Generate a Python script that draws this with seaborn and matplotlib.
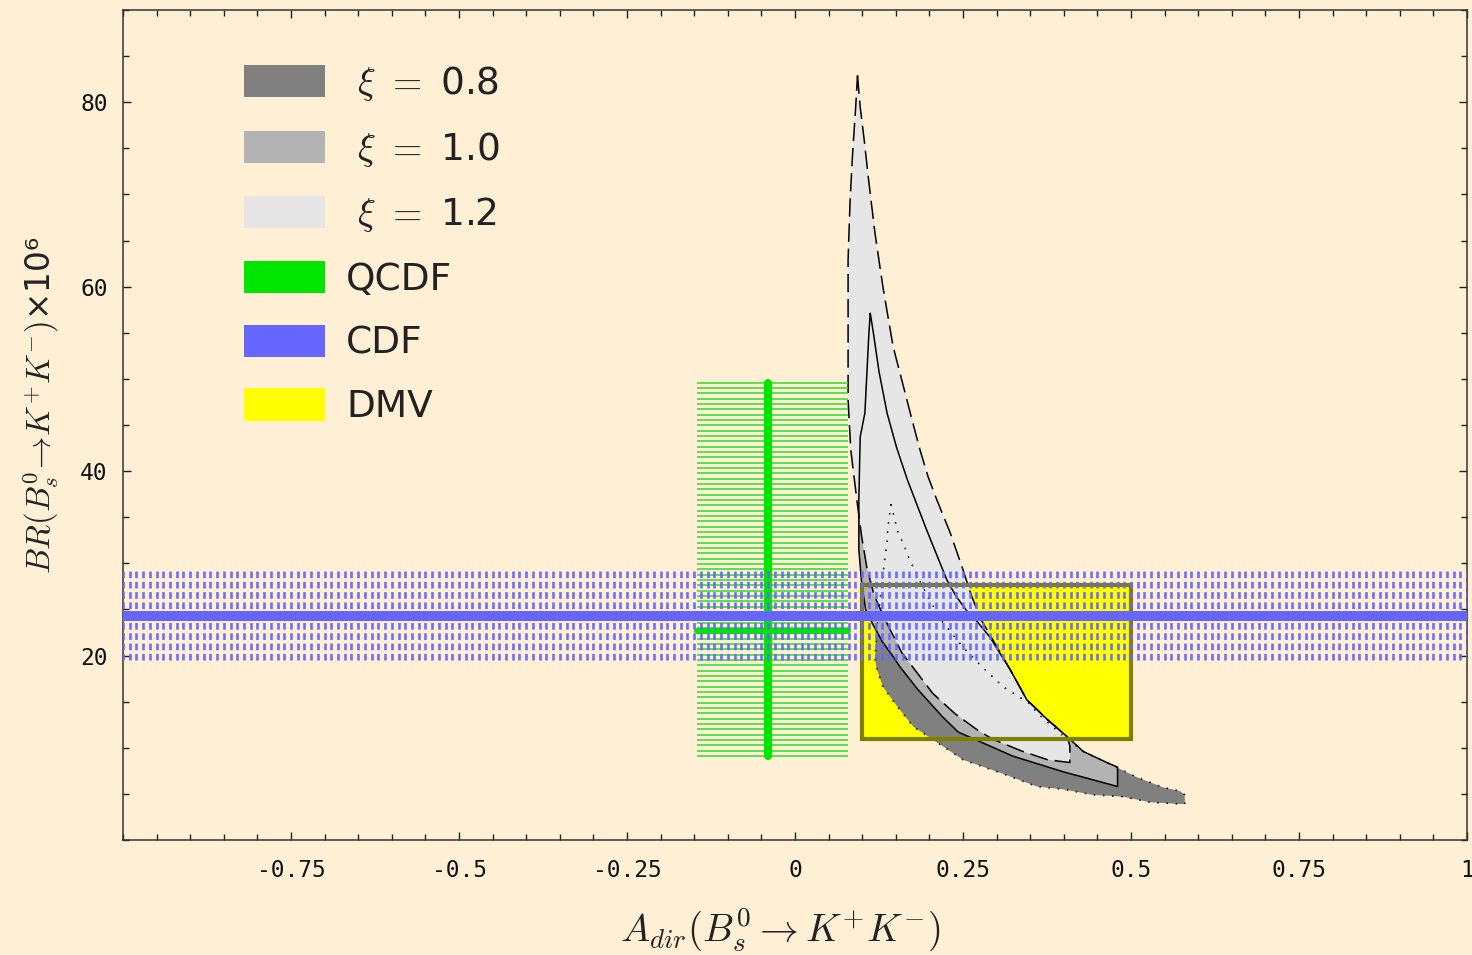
import numpy as np
import pandas as pd
import matplotlib
matplotlib.use("Agg")
import matplotlib.pyplot as plt
import seaborn as sns
from matplotlib.patches import Patch, Rectangle
from matplotlib.ticker import FixedLocator, FixedFormatter, MultipleLocator

# Allowed regions in the (A_dir, BR x 10^6) plane for three values of xi.
# Each list traces the region outline: outer (upper-right) edge first, then back along the inner edge.
xi08_a = [0.143, 0.153, 0.162, 0.170, 0.179, 0.198, 0.220, 0.249, 0.278, 0.310, 0.347, 0.363, 0.394,
          0.429, 0.464, 0.509, 0.548, 0.573, 0.580, 0.580,
          0.573, 0.528, 0.488, 0.443, 0.399, 0.360, 0.305, 0.250, 0.211, 0.176, 0.152, 0.131, 0.122,
          0.119, 0.122, 0.128, 0.134, 0.137, 0.138, 0.141]
xi08_br = [36.4, 33.4, 32.0, 30.5, 29.1, 26.3, 23.6, 21.0, 18.8, 16.6, 14.9, 13.6, 11.6,
           9.6, 8.4, 6.8, 5.7, 5.3, 4.9, 3.9,
           3.9, 4.1, 4.7, 4.9, 5.5, 5.8, 7.3, 8.7, 10.6, 12.3, 14.5, 16.6, 18.5,
           19.6, 23.0, 27.0, 30.7, 32.2, 33.8, 35.4]

xi10_a = [0.112, 0.116, 0.125, 0.137, 0.151, 0.167, 0.196, 0.226, 0.240, 0.256, 0.272, 0.290,
          0.320, 0.345, 0.375, 0.405, 0.429, 0.464, 0.480, 0.480,
          0.399, 0.324, 0.243, 0.219, 0.183, 0.156, 0.145, 0.130, 0.115, 0.105, 0.099, 0.095, 0.095,
          0.097, 0.104, 0.110]
xi10_br = [57.1, 55.3, 50.8, 46.3, 42.6, 39.1, 33.6, 28.2, 26.4, 24.8, 23.6, 22.0,
           18.5, 15.2, 13.1, 11.2, 9.6, 8.4, 7.9, 5.8,
           7.4, 9.1, 11.7, 13.4, 16.3, 18.8, 20.0, 21.5, 23.5, 25.0, 28.0, 31.5, 36.9,
           43.7, 46.3, 55.0]

xi12_a = [0.093, 0.097, 0.103, 0.109, 0.119, 0.131, 0.146, 0.156, 0.174, 0.186, 0.198, 0.211, 0.231,
          0.250, 0.262, 0.276, 0.292, 0.320, 0.345, 0.375, 0.405, 0.409, 0.409,
          0.376, 0.339, 0.295, 0.272, 0.238, 0.205, 0.182, 0.159, 0.134, 0.118, 0.107, 0.099,
          0.092, 0.083, 0.079, 0.079, 0.079, 0.082, 0.086, 0.090]
xi12_br = [82.9, 79.5, 75.9, 71.9, 65.8, 59.9, 53.5, 50.7, 45.6, 42.3, 39.4, 36.9, 33.3,
           29.3, 26.6, 24.0, 22.0, 18.5, 15.2, 13.1, 11.2, 10.2, 8.4,
           8.7, 9.6, 10.9, 11.9, 13.7, 15.9, 18.1, 20.3, 23.9, 26.5, 29.5, 33.0,
           36.9, 42.3, 47.7, 55.3, 62.9, 69.4, 74.8, 79.1]

# QCDF prediction: central value with error ranges
qcdf_a, qcdf_a_lo, qcdf_a_hi = -0.04, -0.146, 0.079
qcdf_br, qcdf_br_lo, qcdf_br_hi = 22.7, 9.1, 49.6

# CDF measurement of the branching ratio
cdf_br, cdf_br_lo, cdf_br_hi = 24.3, 19.5, 29.3

# DMV prediction box
dmv_a_lo, dmv_a_hi = 0.10, 0.50
dmv_br_lo, dmv_br_hi = 10.9, 27.7

x_ticks = [-0.75, -0.5, -0.25, 0, 0.25, 0.5, 0.75, 1]
x_tick_labels = ["-0.75", "-0.5", "-0.25", "0", "0.25", "0.5", "0.75", "1"]
y_ticks = [20, 40, 60, 80]
y_tick_labels = ["20", "40", "60", "80"]

legend_labels = [r" $\xi$ $=$ 0.8", r" $\xi$ $=$ 1.0", r" $\xi$ $=$ 1.2", "QCDF", "CDF", "DMV"]

BG = "#FFEFD5"
GRAY_DARK, GRAY_MID, GRAY_LIGHT = "#808080", "#B3B3B3", "#E6E6E6"
GREEN, BLUE, YELLOW, OLIVE = "#00E600", "#6666FF", "#FFFF00", "#808000"

sns.set_theme(style="ticks")
plt.rcParams["font.family"] = ["DejaVu Sans"]
plt.rcParams["mathtext.fontset"] = "cm"

W, H = 1472, 955
fig = plt.figure(figsize=(W / 100, H / 100), dpi=100, facecolor=BG)
ax = fig.add_axes([123 / W, 1 - 840 / H, 1344 / W, 830 / H])
ax.set_facecolor(BG)

# DMV box interior
ax.fill_between([dmv_a_lo, dmv_a_hi], dmv_br_lo, dmv_br_hi, color=YELLOW, lw=0, zorder=1)

# allowed regions, largest drawn last; outlines on top of all fills
regions = [
    (xi08_a, xi08_br, GRAY_DARK, (0, (1.0, 5.0))),
    (xi10_a, xi10_br, GRAY_MID, "solid"),
    (xi12_a, xi12_br, GRAY_LIGHT, (0, (12, 4.5))),
]
for a, br, col, ls in regions:
    ax.fill(a, br, color=col, lw=0, zorder=2)
for a, br, col, ls in regions:
    ax.plot(list(a) + [a[0]], list(br) + [br[0]], color="black", lw=1.1, ls=ls, zorder=3)

# DMV box frame
ax.add_patch(Rectangle((dmv_a_lo, dmv_br_lo), dmv_a_hi - dmv_a_lo, dmv_br_hi - dmv_br_lo,
                       fill=False, ec=OLIVE, lw=3.0, zorder=4))

# QCDF: hatched error area and central cross
hatch_br = np.linspace(qcdf_br_lo, qcdf_br_hi, 71)
ax.hlines(hatch_br, qcdf_a_lo, qcdf_a_hi, colors="#2EDC2E", lw=1.1, zorder=5)
qv = pd.DataFrame({"a": [qcdf_a, qcdf_a], "br": [qcdf_br_lo, qcdf_br_hi]})
qh = pd.DataFrame({"a": [qcdf_a_lo, qcdf_a_hi], "br": [qcdf_br, qcdf_br]})
sns.lineplot(data=qv, x="a", y="br", estimator=None, sort=False, color=GREEN, lw=5.8,
             solid_capstyle="round", ax=ax, zorder=6)
sns.lineplot(data=qh, x="a", y="br", estimator=None, sort=False, color=GREEN, lw=4.3,
             solid_capstyle="round", ax=ax, zorder=6)

# CDF: dashed vertical hatching over the error band and central line
hatch_a = np.arange(-1.0, 1.0001, 0.01)
ax.vlines(hatch_a, cdf_br_lo, cdf_br_hi, colors=BLUE, lw=1.9, linestyles=[(0, (2.5, 1.4))],
          alpha=0.95, zorder=7)
cl = pd.DataFrame({"a": [-1.0, 1.0], "br": [cdf_br, cdf_br]})
sns.lineplot(data=cl, x="a", y="br", estimator=None, sort=False, color=BLUE, lw=7.2, ax=ax, zorder=8)

ax.set_xlim(-1, 1)
ax.set_ylim(0, 90)

ax.xaxis.set_major_locator(FixedLocator(x_ticks))
ax.xaxis.set_major_formatter(FixedFormatter(x_tick_labels))
ax.xaxis.set_minor_locator(MultipleLocator(0.05))
ax.yaxis.set_major_locator(FixedLocator(y_ticks))
ax.yaxis.set_major_formatter(FixedFormatter(y_tick_labels))
ax.yaxis.set_minor_locator(MultipleLocator(5))
ax.tick_params(which="both", direction="in", top=True, right=True, color="#222222", width=1.0)
ax.tick_params(which="major", length=6)
ax.tick_params(which="minor", length=4)
ax.tick_params(axis="x", which="major", pad=14)
ax.tick_params(axis="y", which="major", pad=11)
for lab in ax.get_xticklabels() + ax.get_yticklabels():
    lab.set_family("DejaVu Sans Mono")
    lab.set_fontsize(16.5)
    lab.set_color("#111111")
for sp in ax.spines.values():
    sp.set_color("#333333")
    sp.set_linewidth(1.1)

ax.set_xlabel(r"$A_{dir}(B_s^0 \rightarrow K^{+}K^{-})$", fontsize=28, color="#222222")
ax.set_ylabel(r"$BR(B_s^0\!\rightarrow\!K^{+}K^{-})$" + "×10\u2076", fontsize=23.5, color="#222222")
ax.xaxis.set_label_coords(0.489, -0.079)
ax.yaxis.set_label_coords(-0.046, 0.524)

handles = [Patch(facecolor=c, edgecolor="none") for c in
           [GRAY_DARK, GRAY_MID, GRAY_LIGHT, GREEN, BLUE, YELLOW]]
leg = ax.legend(handles, legend_labels, loc="upper left", bbox_to_anchor=(0.090, 0.935),
                frameon=False, fontsize=27, handlelength=2.16, handleheight=0.95,
                handletextpad=0.56, labelspacing=0.71, borderpad=0, borderaxespad=0)
for t in leg.get_texts():
    t.set_color("#222222")

fig.savefig("out.png", dpi=100, facecolor=BG)
